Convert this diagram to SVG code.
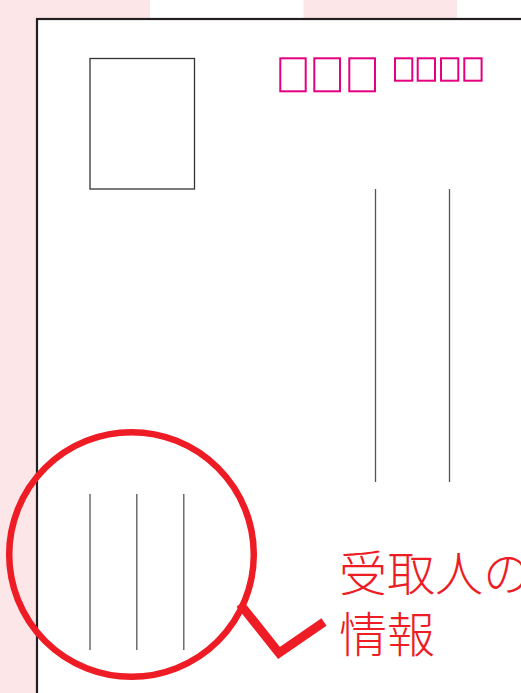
<svg xmlns="http://www.w3.org/2000/svg" width="521" height="693" viewBox="0 0 521 693">
  <style>
    .stripe { fill: #fde6e8; }
    .zip { fill: none; stroke: #e4007f; stroke-width: 2; }
    .addr { stroke: #555; stroke-width: 1.3; fill: none; }
    .label { font-family: "Noto Sans CJK JP", "Noto Sans CJK SC", sans-serif; font-size: 48px; fill: #ee1c25; font-weight: 300; }
  </style>
  <rect x="0" y="0" width="521" height="693" fill="#ffffff"/>
  <g id="background">
    <rect class="stripe" x="0" y="0" width="150" height="693"/>
    <rect class="stripe" x="303.5" y="0" width="153.5" height="693"/>
  </g>
  <g id="postcard">
    <rect x="37" y="19" width="500" height="700" fill="#ffffff" stroke="#231f20" stroke-width="2.2"/>
  </g>
  <g id="stamp">
    <rect x="90" y="58.5" width="104.5" height="130.5" fill="none" stroke="#333" stroke-width="1.3"/>
  </g>
  <g id="postal-code">
    <rect class="zip" x="280.3" y="58.3" width="25.4" height="33"/>
    <rect class="zip" x="314.3" y="58.3" width="25.7" height="33"/>
    <rect class="zip" x="349.3" y="58.3" width="25.7" height="33"/>
    <rect class="zip" x="395" y="58.3" width="17.3" height="22.4"/>
    <rect class="zip" x="417.7" y="58.3" width="17.3" height="22.4"/>
    <rect class="zip" x="441" y="58.3" width="17.3" height="22.4"/>
    <rect class="zip" x="464.3" y="58.3" width="17.3" height="22.4"/>
  </g>
  <g id="address-lines">
    <line class="addr" x1="375.5" y1="189" x2="375.5" y2="482"/>
    <line class="addr" x1="449.5" y1="189" x2="449.5" y2="482"/>
  </g>
  <g id="recipient-lines">
    <line class="addr" x1="90" y1="494" x2="90" y2="650"/>
    <line class="addr" x1="136.8" y1="494" x2="136.8" y2="650"/>
    <line class="addr" x1="183.8" y1="494" x2="183.8" y2="650"/>
  </g>
  <g id="magnifier">
    <circle cx="131.5" cy="554.5" r="122.3" fill="none" stroke="#ee1c25" stroke-width="6.5"/>
  </g>
  <g id="connectors">
    <polyline points="240,604 279,653 324,622" fill="none" stroke="#ee1c25" stroke-width="9" stroke-linejoin="miter"/>
  </g>
  <g id="label">
    <text class="label" x="339" y="591">受取人の</text>
    <text class="label" x="339" y="652">情報</text>
  </g>
</svg>
